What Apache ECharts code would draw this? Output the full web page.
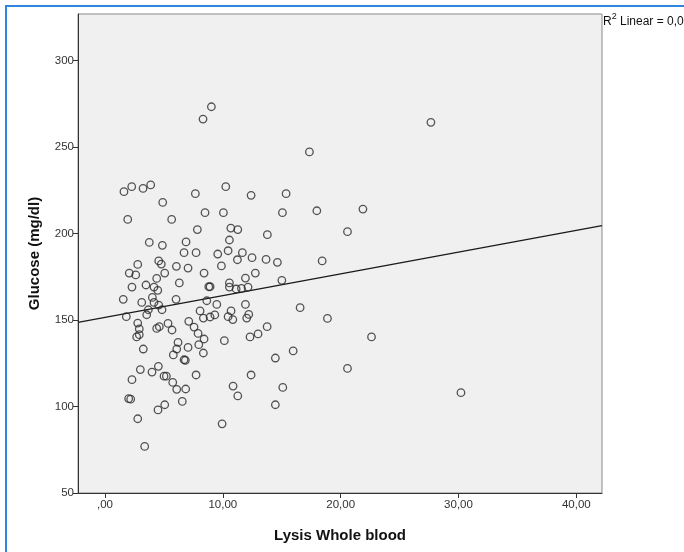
<!DOCTYPE html>
<html>
<head>
<meta charset="utf-8">
<script src="https://cdn.jsdelivr.net/npm/echarts@6/dist/echarts.min.js"></script>
<style>
html,body{margin:0;padding:0;background:#fff;}
#chart{width:684px;height:552px;}
</style>
</head>
<body>
<div id="chart"></div>
<script>
// Lysis Whole blood values (x)
var lysis = [9.03,8.32,1.61,2.27,3.23,3.88,4.90,7.67,10.25,12.40,15.37,1.93,5.66,8.49,10.05,15.06,7.84,10.68,11.27,13.78,
27.66,17.35,17.98,21.89,20.58,30.21,18.43,15.01,16.56,18.88,22.62,15.97,20.58,15.09,3.76,4.87,6.88,10.56,6.71,7.73,
9.57,10.45,11.66,11.24,12.48,13.67,14.63,2.78,4.56,4.78,6.06,7.05,9.88,2.06,2.61,5.07,8.41,12.76,4.39,6.31,
11.92,2.29,3.48,4.16,4.48,8.81,8.92,10.56,10.56,11.13,11.58,12.14,1.55,3.12,4.02,4.16,4.56,4.84,6.03,8.64,
9.49,11.92,3.68,1.81,3.54,8.07,8.92,8.35,9.32,10.70,10.45,10.85,12.03,12.20,2.78,2.91,2.69,2.91,4.39,4.61,
5.35,5.69,7.11,7.56,7.90,8.41,7.96,6.20,6.09,7.05,5.80,8.35,3.25,6.71,6.82,10.13,12.31,12.99,13.76,14.46,
3.00,2.29,3.99,4.53,5.01,5.21,7.73,12.40,5.75,6.09,6.85,10.87,11.27,2.01,2.18,5.07,4.50,6.56,2.78,9.94,
3.37,14.46];
// Glucose (mg/dl) values (y)
var glucose = [273.2,266.1,224.1,227.0,226.0,228.0,217.9,223.0,227.0,222.0,223.0,208.1,208.1,212.0,212.0,212.0,202.2,203.1,202.2,199.3,
264.2,247.1,213.1,214.1,201.0,108.0,184.1,172.9,157.1,150.9,140.2,132.1,122.0,111.0,194.8,193.1,195.1,196.2,188.9,188.9,
188.1,190.0,188.9,184.8,186.0,185.0,183.3,182.1,184.1,182.3,181.0,180.0,181.2,177.1,176.0,177.1,177.1,177.1,174.0,171.4,
174.2,169.0,170.2,169.0,167.1,169.2,169.2,171.4,169.0,167.9,168.2,169.0,161.9,160.1,163.0,160.1,158.6,155.9,161.9,161.1,
159.0,159.0,155.9,151.9,153.0,155.2,151.7,151.1,152.9,155.2,151.9,150.2,151.1,153.2,148.2,144.8,140.2,141.5,145.1,146.1,
148.0,144.2,149.2,145.9,142.2,139.0,135.7,137.0,133.2,134.1,129.8,130.9,133.2,127.0,126.7,138.0,140.2,141.9,146.1,128.0,
121.3,115.5,119.9,123.2,117.5,117.5,118.2,118.2,113.9,109.9,110.1,111.8,106.1,104.5,104.2,101.0,98.0,102.9,92.9,90.0,
76.9,101.0];
// Fit line (linear regression) end points
var fitX = [-2.29, 42.18];
var fitY = [148.6, 204.5];
// Axis ticks
var xTicks = [0, 10, 20, 30, 40];
var xTickLabels = [',00', '10,00', '20,00', '30,00', '40,00'];
var yTicks = [50, 100, 150, 200, 250, 300];
var yTickLabels = ['50', '100', '150', '200', '250', '300'];
var xTitle = 'Lysis Whole blood';
var yTitle = 'Glucose (mg/dl)';
var r2Parts = ['R', '2', ' Linear = 0,0'];

var points = lysis.map(function (v, i) { return [v, glucose[i]]; });
var fitData = fitX.map(function (v, i) { return [v, fitY[i]]; });
var FONT = 'Arial, "Liberation Sans", sans-serif';

var chart = echarts.init(document.getElementById('chart'), null, {renderer: 'canvas'});
chart.setOption({
  animation: false,
  backgroundColor: '#ffffff',
  grid: {
    left: 78, right: 82, top: 14, bottom: 59,
    show: true, backgroundColor: '#f0f0f0', borderColor: '#8a8a8a', borderWidth: 1
  },
  graphic: [
    {
      type: 'rect', silent: true, z: 100,
      shape: {x: 6, y: 6, width: 900, height: 900},
      style: {fill: 'none', stroke: '#2e86de', lineWidth: 2}
    },
    {
      type: 'text', left: 603, top: 12, z: 100,
      style: {
        text: '{n|' + r2Parts[0] + '}{s|' + r2Parts[1] + '}{n|' + r2Parts[2] + '}',
        fill: '#111', font: '12px ' + FONT,
        rich: {
          n: {fontSize: 12, fontFamily: FONT, lineHeight: 16, verticalAlign: 'bottom', fill: '#111'},
          s: {fontSize: 9, fontFamily: FONT, lineHeight: 16, verticalAlign: 'top', fill: '#111'}
        }
      }
    }
  ],
  xAxis: {
    type: 'value', min: fitX[0], max: fitX[1],
    name: xTitle, nameLocation: 'middle', nameGap: 35,
    nameTextStyle: {fontFamily: FONT, fontSize: 15, fontWeight: 'bold', color: '#111'},
    axisLine: {show: true, onZero: false, lineStyle: {color: '#333', width: 1}},
    axisTick: {show: true, length: 5, customValues: xTicks, lineStyle: {color: '#333'}},
    axisLabel: {
      customValues: xTicks, margin: 6, color: '#333', fontFamily: FONT, fontSize: 11.5,
      formatter: function (v) { var i = xTicks.indexOf(v); return i >= 0 ? xTickLabels[i] : ''; }
    },
    splitLine: {show: false}
  },
  yAxis: {
    type: 'value', min: 50, max: 326.8,
    name: yTitle, nameLocation: 'middle', nameGap: 36,
    nameTextStyle: {fontFamily: FONT, fontSize: 15, fontWeight: 'bold', color: '#111'},
    axisLine: {show: true, onZero: false, lineStyle: {color: '#333', width: 1}},
    axisTick: {show: true, length: 5, customValues: yTicks, lineStyle: {color: '#333'}},
    axisLabel: {
      customValues: yTicks, margin: 4, color: '#333', fontFamily: FONT, fontSize: 11.5,
      formatter: function (v) { var i = yTicks.indexOf(v); return i >= 0 ? yTickLabels[i] : ''; }
    },
    splitLine: {show: false}
  },
  series: [
    {
      type: 'line', data: fitData, symbol: 'none', silent: true, z: 2,
      lineStyle: {color: '#1a1a1a', width: 1.3}
    },
    {
      type: 'scatter', data: points, symbol: 'circle', symbolSize: 7.5, z: 3,
      itemStyle: {color: 'rgba(0,0,0,0)', borderColor: '#2a2a2a', borderWidth: 1.3}
    }
  ]
});
</script>
</body>
</html>
